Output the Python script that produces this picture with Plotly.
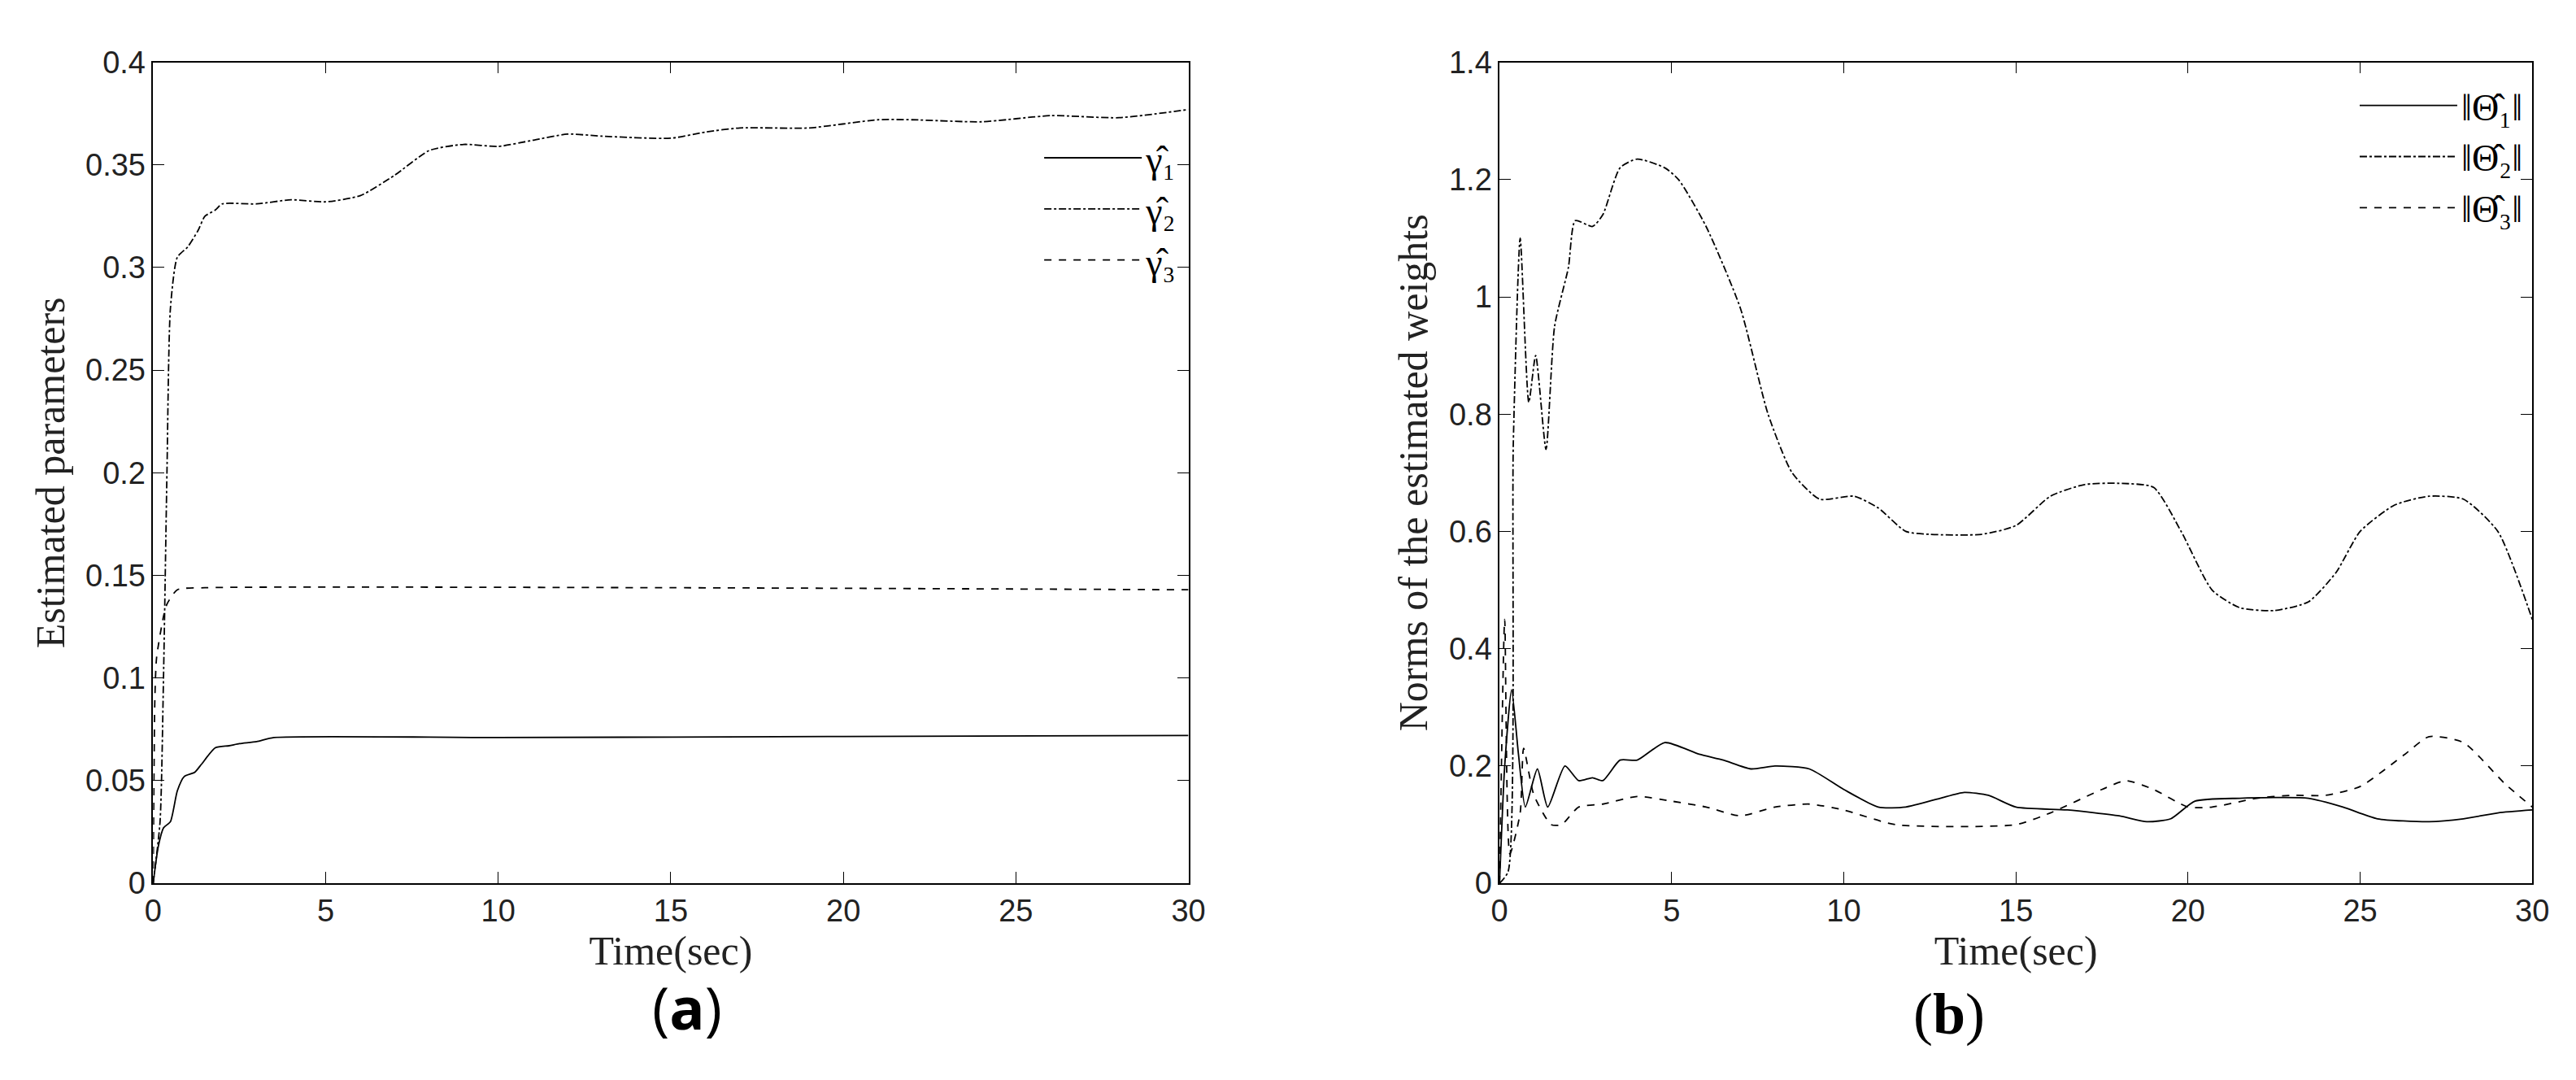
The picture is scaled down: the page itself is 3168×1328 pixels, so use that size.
import plotly.graph_objects as go
from plotly.subplots import make_subplots

# panel (a): estimated parameters
t_g1 = [0, 0.15, 0.3, 0.5, 0.7, 0.9, 1.2, 1.4, 1.8, 2.2, 2.5, 3.0, 3.5, 10, 20, 30]
g1 = [0, 0.018, 0.027, 0.03, 0.045, 0.052, 0.054, 0.058, 0.066, 0.067, 0.068, 0.069, 0.071, 0.071, 0.0715, 0.072]

t_g2 = [0, 0.2, 0.3, 0.4, 0.5, 0.7, 1.0, 1.3, 1.5, 1.8, 2.0, 3.0, 4.0, 5.0, 6.0, 7.0, 8.0, 9.0, 10, 11,
        12, 13, 15, 16, 17, 19, 21, 22, 24, 26, 28, 30]
g2 = [0, 0.03, 0.1, 0.2, 0.28, 0.305, 0.31, 0.318, 0.325, 0.328, 0.331, 0.331, 0.333, 0.332, 0.335, 0.345,
      0.357, 0.36, 0.359, 0.362, 0.365, 0.364, 0.363, 0.366, 0.368, 0.368, 0.372, 0.372, 0.371, 0.374, 0.373, 0.377]

t_g3 = [0, 0.05, 0.1, 0.3, 0.4, 0.7, 1.5, 15, 30]
g3 = [0, 0.09, 0.11, 0.13, 0.136, 0.143, 0.144, 0.144, 0.143]

# panel (b): norms of the estimated weights
t_th1 = [0, 0.15, 0.35, 0.55, 0.75, 1.1, 1.4, 1.9, 2.3, 2.7, 3.0, 3.5, 4.0, 4.8, 5.8, 6.5, 7.3, 8.0, 9.0, 10,
         11, 11.8, 12.8, 13.5, 14.2, 15, 16.5, 18, 18.8, 19.5, 20.2, 21.5, 23.5, 24.5, 25.5, 27, 28, 29, 30]
th1 = [0, 0.2, 0.33, 0.22, 0.13, 0.195, 0.13, 0.2, 0.175, 0.18, 0.175, 0.21, 0.21, 0.24, 0.22, 0.21, 0.195,
       0.2, 0.195, 0.16, 0.13, 0.13, 0.145, 0.155, 0.15, 0.13, 0.125, 0.115, 0.105, 0.11, 0.14, 0.145, 0.145,
       0.13, 0.11, 0.105, 0.11, 0.12, 0.125]

t_th2 = [0, 0.25, 0.4, 0.6, 0.85, 1.05, 1.35, 1.6, 2.0, 2.2, 2.7, 3.0, 3.5, 4.0, 4.8, 5.2, 6.0, 7.0, 7.8,
         8.5, 9.3, 10.3, 11, 11.8, 12.5, 14, 15, 16, 17, 18, 19, 19.8, 20.7, 21.5, 22.5, 23.5, 24.3, 25, 26,
         27, 28, 29, 30]
th2 = [0, 0.02, 0.75, 1.1, 0.82, 0.9, 0.74, 0.95, 1.05, 1.13, 1.12, 1.14, 1.22, 1.235, 1.22, 1.2, 1.12,
       0.98, 0.8, 0.7, 0.655, 0.66, 0.64, 0.6, 0.595, 0.595, 0.61, 0.66, 0.68, 0.682, 0.675, 0.6, 0.5, 0.47,
       0.465, 0.48, 0.53, 0.6, 0.645, 0.66, 0.655, 0.6, 0.45]

t_th3 = [0, 0.15, 0.3, 0.6, 0.7, 1.0, 1.5, 1.8, 2.3, 3.0, 4.0, 5.0, 6.0, 7.0, 8.0, 9.0, 10, 11.5, 15, 16,
         17.5, 18.2, 19, 20, 20.7, 22, 23, 24, 25, 26.3, 27, 28, 29.2, 30]
th3 = [0, 0.45, 0.05, 0.12, 0.23, 0.15, 0.1, 0.1, 0.13, 0.135, 0.148, 0.14, 0.13, 0.115, 0.13, 0.135, 0.125,
       0.1, 0.1, 0.12, 0.16, 0.175, 0.16, 0.13, 0.13, 0.145, 0.15, 0.15, 0.165, 0.22, 0.25, 0.24, 0.17, 0.13]

fig = make_subplots(rows=1, cols=2)
fig.update_layout(xaxis=dict(domain=[0.054, 0.46]), xaxis2=dict(domain=[0.582, 0.987]),
                  yaxis=dict(domain=[0.178, 0.963]), yaxis2=dict(domain=[0.178, 0.963]))

ln = dict(color="black", width=1.8, shape="spline", smoothing=0.6)
fig.add_trace(go.Scatter(x=t_g1, y=g1, mode="lines", name="γ̂₁", line=dict(**ln, dash="solid"), legend="legend"), 1, 1)
fig.add_trace(go.Scatter(x=t_g2, y=g2, mode="lines", name="γ̂₂", line=dict(**ln, dash="dashdot"), legend="legend"), 1, 1)
fig.add_trace(go.Scatter(x=t_g3, y=g3, mode="lines", name="γ̂₃", line=dict(**ln, dash="dash"), legend="legend"), 1, 1)
fig.add_trace(go.Scatter(x=t_th1, y=th1, mode="lines", name="‖Θ̂₁‖", line=dict(**ln, dash="solid"), legend="legend2"), 1, 2)
fig.add_trace(go.Scatter(x=t_th2, y=th2, mode="lines", name="‖Θ̂₂‖", line=dict(**ln, dash="dashdot"), legend="legend2"), 1, 2)
fig.add_trace(go.Scatter(x=t_th3, y=th3, mode="lines", name="‖Θ̂₃‖", line=dict(**ln, dash="dash"), legend="legend2"), 1, 2)

title_font = dict(family="Liberation Serif", size=50, color="#222")
ax = dict(showline=True, mirror="ticks", linecolor="black", linewidth=1.5, ticks="inside", ticklen=14,
          tickcolor="black", showgrid=False, zeroline=False, tickfont=dict(family="Liberation Sans", size=38, color="#222"))
fig.update_xaxes(**ax, range=[0, 30], dtick=5, title=dict(text="Time(sec)", font=title_font, standoff=4))
fig.update_yaxes(**ax)
fig.update_yaxes(range=[0, 0.4], dtick=0.05, row=1, col=1,
                 title=dict(text="Estimated parameters", font=title_font, standoff=10))
fig.update_yaxes(range=[0, 1.4], dtick=0.2, row=1, col=2,
                 title=dict(text="Norms of the estimated weights", font=title_font, standoff=10))

leg = dict(bgcolor="rgba(0,0,0,0)", font=dict(family="Liberation Serif", size=46, color="black"),
           xanchor="right", yanchor="top", tracegroupgap=0, itemwidth=120)
fig.update_layout(
    legend=dict(**leg, x=0.457, y=0.9),
    legend2=dict(**leg, x=0.985, y=0.95),
    showlegend=True,
    width=3168, height=1328, plot_bgcolor="white", paper_bgcolor="white",
    margin=dict(l=0, r=0, t=0, b=0),
    annotations=[
        dict(text="(<b>a</b>)", x=0.249, y=0.02, xref="paper", yref="paper", showarrow=False,
             yanchor="bottom", font=dict(family="Open Sans", size=72, color="black")),
        dict(text="(<b>b</b>)", x=0.773, y=0.02, xref="paper", yref="paper", showarrow=False,
             yanchor="bottom", font=dict(family="Liberation Serif", size=72, color="black")),
    ],
)
fig.write_html("out.html")
